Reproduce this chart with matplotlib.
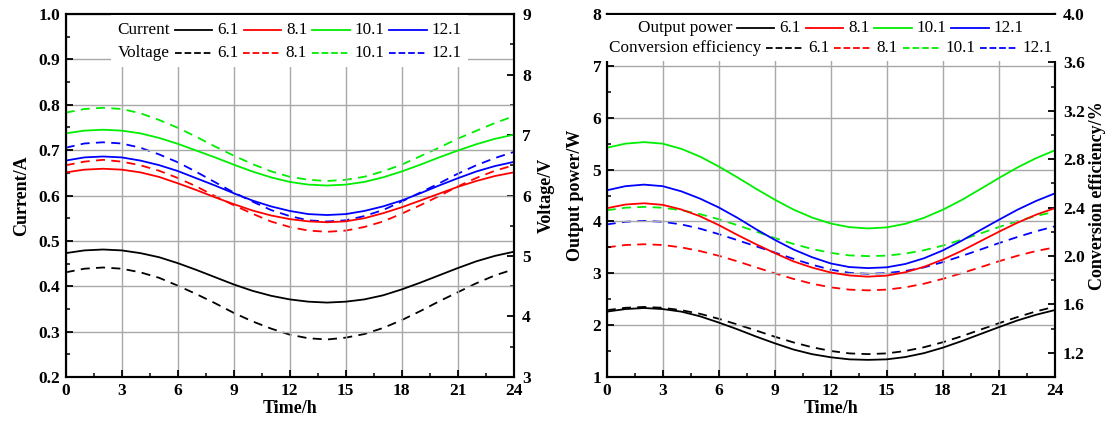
import numpy as np
import matplotlib
matplotlib.use("Agg")
import matplotlib.pyplot as plt
from matplotlib.ticker import MultipleLocator, FormatStrFormatter
from matplotlib.offsetbox import HPacker, VPacker, TextArea, DrawingArea, AnchoredOffsetbox
from matplotlib.lines import Line2D

plt.rcParams['font.family'] = ['Liberation Serif', 'DejaVu Serif']

# ---------------- data ----------------
hours = list(range(0, 25))
series_labels = ["6.1", "8.1", "10.1", "12.1"]
series_colors = ["#000000", "#ff0000", "#00ee00", "#0000ff"]

# Left panel: current (A) and voltage (V)
current_61 = [0.473, 0.479, 0.481, 0.479, 0.473, 0.464, 0.451, 0.436, 0.420, 0.404, 0.390, 0.379, 0.371,
              0.366, 0.364, 0.366, 0.371, 0.380, 0.393, 0.408, 0.424, 0.440, 0.455, 0.467, 0.476]
current_81 = [0.651, 0.657, 0.659, 0.657, 0.651, 0.641, 0.627, 0.612, 0.596, 0.581, 0.567, 0.556, 0.548,
              0.543, 0.541, 0.543, 0.550, 0.561, 0.574, 0.589, 0.604, 0.619, 0.632, 0.643, 0.651]
current_101 = [0.737, 0.743, 0.745, 0.743, 0.737, 0.727, 0.714, 0.699, 0.684, 0.668, 0.653, 0.640, 0.630,
               0.624, 0.622, 0.624, 0.630, 0.640, 0.653, 0.668, 0.684, 0.699, 0.713, 0.725, 0.734]
current_121 = [0.677, 0.684, 0.686, 0.684, 0.677, 0.667, 0.654, 0.638, 0.622, 0.605, 0.589, 0.576, 0.566,
               0.559, 0.557, 0.559, 0.566, 0.576, 0.589, 0.605, 0.622, 0.638, 0.653, 0.665, 0.674]

voltage_61 = [4.73, 4.79, 4.81, 4.79, 4.73, 4.64, 4.51, 4.37, 4.22, 4.06, 3.92, 3.80, 3.70,
              3.64, 3.62, 3.65, 3.71, 3.81, 3.94, 4.09, 4.25, 4.40, 4.55, 4.68, 4.78]
voltage_81 = [6.50, 6.56, 6.59, 6.56, 6.50, 6.41, 6.29, 6.15, 5.99, 5.84, 5.70, 5.57, 5.48,
              5.42, 5.40, 5.42, 5.48, 5.57, 5.70, 5.84, 5.99, 6.15, 6.29, 6.41, 6.50]
voltage_101 = [7.37, 7.43, 7.45, 7.43, 7.36, 7.25, 7.12, 6.97, 6.81, 6.66, 6.52, 6.40, 6.31,
               6.26, 6.24, 6.26, 6.31, 6.40, 6.51, 6.65, 6.79, 6.94, 7.07, 7.20, 7.31]
voltage_121 = [6.79, 6.86, 6.88, 6.86, 6.79, 6.68, 6.55, 6.39, 6.22, 6.05, 5.90, 5.76, 5.66,
               5.59, 5.57, 5.59, 5.66, 5.76, 5.90, 6.05, 6.20, 6.36, 6.50, 6.62, 6.72]

# Right panel: output power (W) and conversion efficiency (%)
power_61 = [2.26, 2.31, 2.33, 2.31, 2.26, 2.17, 2.05, 1.92, 1.78, 1.65, 1.53, 1.44, 1.38,
            1.34, 1.33, 1.34, 1.385, 1.46, 1.565, 1.69, 1.825, 1.96, 2.09, 2.20, 2.29]
power_81 = [4.255, 4.326, 4.35, 4.32, 4.23, 4.10, 3.93, 3.74, 3.56, 3.39, 3.23, 3.11, 3.015,
            2.958, 2.935, 2.955, 3.02, 3.125, 3.265, 3.43, 3.615, 3.80, 3.975, 4.13, 4.255]
power_101 = [5.42, 5.50, 5.53, 5.50, 5.40, 5.25, 5.06, 4.85, 4.63, 4.42, 4.23, 4.075, 3.96,
             3.89, 3.865, 3.885, 3.955, 4.07, 4.225, 4.41, 4.62, 4.835, 5.04, 5.22, 5.37]
power_121 = [4.60, 4.68, 4.71, 4.68, 4.58, 4.44, 4.27, 4.07, 3.85, 3.645, 3.46, 3.31, 3.19,
             3.12, 3.10, 3.115, 3.18, 3.29, 3.44, 3.625, 3.83, 4.03, 4.225, 4.395, 4.54]

eff_61 = [1.552, 1.572, 1.579, 1.572, 1.552, 1.522, 1.481, 1.434, 1.384, 1.333, 1.286, 1.246, 1.215,
          1.195, 1.189, 1.195, 1.215, 1.246, 1.287, 1.336, 1.390, 1.444, 1.495, 1.542, 1.581]
eff_81 = [2.071, 2.091, 2.097, 2.091, 2.071, 2.041, 2.002, 1.956, 1.906, 1.857, 1.811, 1.771, 1.741,
          1.722, 1.716, 1.722, 1.741, 1.771, 1.811, 1.857, 1.906, 1.956, 2.002, 2.041, 2.071]
eff_101 = [2.378, 2.399, 2.406, 2.399, 2.378, 2.346, 2.304, 2.255, 2.202, 2.149, 2.100, 2.058, 2.026,
           2.005, 1.999, 2.003, 2.020, 2.048, 2.086, 2.134, 2.185, 2.239, 2.288, 2.331, 2.365]
eff_121 = [2.261, 2.283, 2.290, 2.283, 2.261, 2.226, 2.181, 2.131, 2.080, 2.029, 1.977, 1.928, 1.887,
           1.861, 1.853, 1.859, 1.876, 1.906, 1.949, 1.999, 2.052, 2.106, 2.157, 2.204, 2.245]

# ---------------- style ----------------
LW = 1.3
DASH = (5.0, 3.5)
TICK_FS = 12.5
LABEL_FS = 13
LEG_FS = 12.3
GRID_C = "#a8a8a8"

fig = plt.figure(figsize=(11.10, 4.28), dpi=100)
axL = fig.add_axes([0.0592, 0.1192, 0.4036, 0.848])
axR = fig.add_axes([0.5466, 0.1192, 0.4036, 0.848])


def style_axis(ax, twin):
    for sp in list(ax.spines.values()) + list(twin.spines.values()):
        sp.set_linewidth(1.5)
    ax.set_xlim(0, 24)
    ax.xaxis.set_major_locator(MultipleLocator(3))
    ax.xaxis.set_minor_locator(MultipleLocator(1.5))
    ax.grid(True, which='major', color=GRID_C, lw=1.0)
    ax.set_axisbelow(True)
    ax.tick_params(axis='both', which='major', direction='in', length=5, width=1.3,
                   labelsize=TICK_FS, top=False, right=False, pad=4)
    ax.tick_params(axis='both', which='minor', direction='in', length=3, width=1.1,
                   top=False, right=False)
    twin.tick_params(axis='y', which='major', direction='in', length=5, width=1.3,
                     labelsize=TICK_FS, left=False, pad=6)
    twin.tick_params(axis='y', which='minor', direction='in', length=3, width=1.1, left=False)
    for lab in ax.get_xticklabels() + ax.get_yticklabels() + twin.get_yticklabels():
        lab.set_fontweight('bold')
    ax.set_xlabel("Time/h", fontsize=LABEL_FS, fontweight='bold', labelpad=1)


def make_legend(ax, rows, pad, sep):
    row_boxes = []
    for title, lines in rows:
        children = [TextArea(title, textprops=dict(size=LEG_FS, family='Liberation Serif'))]
        for ln, lab in lines:
            da = DrawingArea(27, 8, 0, 0)
            h = Line2D([0, 27], [4, 4], color=ln.get_color(), lw=ln.get_linewidth(),
                       linestyle=ln.get_linestyle())
            da.add_artist(h)
            children.append(da)
            children.append(TextArea(lab, textprops=dict(size=LEG_FS, family='Liberation Serif')))
        row_boxes.append(HPacker(children=children, align='center', pad=0, sep=3.5))
    vp = VPacker(children=row_boxes, align='center', pad=0, sep=sep)
    ab = AnchoredOffsetbox(loc='upper center', child=vp, frameon=True, pad=pad, borderpad=0.1,
                           bbox_to_anchor=(0.5, 1.0), bbox_transform=ax.transAxes)
    ab.patch.set_facecolor('white')
    ab.patch.set_edgecolor('none')
    ab.set_zorder(5)
    ax.add_artist(ab)


# ---------------- left panel ----------------
axL2 = axL.twinx()
axL.set_zorder(axL2.get_zorder() + 1)
axL.patch.set_visible(False)

cur_lines = []
for vals, c, lab in zip([current_61, current_81, current_101, current_121], series_colors, series_labels):
    ln, = axL.plot(hours, vals, color=c, lw=LW)
    cur_lines.append((ln, lab))
vol_lines = []
for vals, c, lab in zip([voltage_61, voltage_81, voltage_101, voltage_121], series_colors, series_labels):
    ln, = axL2.plot(hours, vals, color=c, lw=LW, linestyle=(0, DASH))
    vol_lines.append((ln, lab))

axL.set_ylim(0.2, 1.0)
axL.yaxis.set_major_locator(MultipleLocator(0.1))
axL.yaxis.set_minor_locator(MultipleLocator(0.05))
axL.yaxis.set_major_formatter(FormatStrFormatter('%.1f'))
axL2.set_ylim(3, 9)
axL2.yaxis.set_major_locator(MultipleLocator(1))
axL2.yaxis.set_minor_locator(MultipleLocator(0.5))
axL.set_ylabel("Current/A", fontsize=LABEL_FS, fontweight='bold', labelpad=6)
axL2.set_ylabel("Voltage/V", fontsize=LABEL_FS, fontweight='bold', labelpad=5)
style_axis(axL, axL2)
make_legend(axL, [("Current", cur_lines), ("Voltage", vol_lines)], pad=0.45, sep=5)

# ---------------- right panel ----------------
axR2 = axR.twinx()
axR.set_zorder(axR2.get_zorder() + 1)
axR.patch.set_visible(False)

pow_lines = []
for vals, c, lab in zip([power_61, power_81, power_101, power_121], series_colors, series_labels):
    ln, = axR.plot(hours, vals, color=c, lw=LW)
    pow_lines.append((ln, lab))
eff_lines = []
for vals, c, lab in zip([eff_61, eff_81, eff_101, eff_121], series_colors, series_labels):
    ln, = axR2.plot(hours, vals, color=c, lw=LW, linestyle=(0, DASH))
    eff_lines.append((ln, lab))

axR.set_ylim(1, 8)
axR.yaxis.set_major_locator(MultipleLocator(1))
axR.yaxis.set_minor_locator(MultipleLocator(0.5))
axR2.set_ylim(1.0, 4.0)
axR2.set_yticks(np.arange(1.2, 4.01, 0.4))
axR2.yaxis.set_minor_locator(MultipleLocator(0.2))
axR2.yaxis.set_major_formatter(FormatStrFormatter('%.1f'))
axR.set_ylabel("Output power/W", fontsize=LABEL_FS, fontweight='bold', labelpad=6)
axR2.set_ylabel("Conversion efficiency/%", fontsize=LABEL_FS, fontweight='bold', labelpad=3)
style_axis(axR, axR2)
make_legend(axR, [("Output power", pow_lines), ("Conversion efficiency", eff_lines)], pad=0.3, sep=3.5)

fig.savefig("out.png", dpi=100)
